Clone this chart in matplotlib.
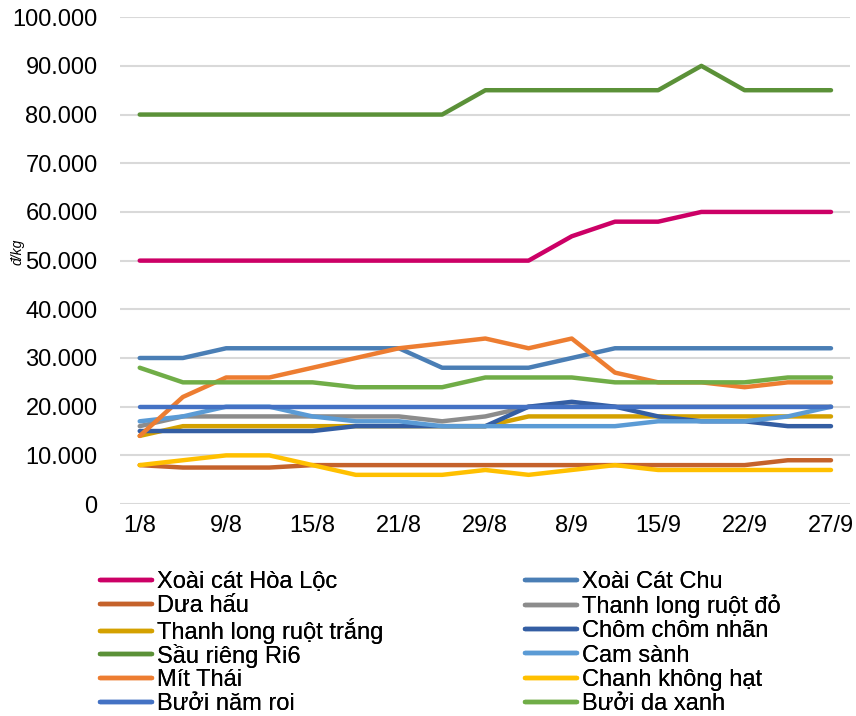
import matplotlib.pyplot as plt
import numpy as np

plt.rcParams['font.family'] = ['Liberation Sans', 'DejaVu Sans']

# dates (17 observations, every second one is labelled)
dates = ['1/8', '5/8', '9/8', '12/8', '15/8', '19/8', '21/8', '26/8', '29/8',
         '5/9', '8/9', '12/9', '15/9', '19/9', '22/9', '26/9', '27/9']
label_every = 2

xoai_hoa_loc = [50000, 50000, 50000, 50000, 50000, 50000, 50000, 50000, 50000,
                50000, 55000, 58000, 58000, 60000, 60000, 60000, 60000]
xoai_cat_chu = [30000, 30000, 32000, 32000, 32000, 32000, 32000, 28000, 28000,
                28000, 30000, 32000, 32000, 32000, 32000, 32000, 32000]
dua_hau = [8000, 7500, 7500, 7500, 8000, 8000, 8000, 8000, 8000,
           8000, 8000, 8000, 8000, 8000, 8000, 9000, 9000]
tl_ruot_do = [16000, 18000, 18000, 18000, 18000, 18000, 18000, 17000, 18000,
              20000, 20000, 20000, 20000, 20000, 20000, 20000, 20000]
tl_ruot_trang = [14000, 16000, 16000, 16000, 16000, 16000, 16000, 16000, 16000,
                 18000, 18000, 18000, 18000, 18000, 18000, 18000, 18000]
chom_chom = [15000, 15000, 15000, 15000, 15000, 16000, 16000, 16000, 16000,
             20000, 21000, 20000, 18000, 17000, 17000, 16000, 16000]
sau_rieng = [80000, 80000, 80000, 80000, 80000, 80000, 80000, 80000, 85000,
             85000, 85000, 85000, 85000, 90000, 85000, 85000, 85000]
cam_sanh = [17000, 18000, 20000, 20000, 18000, 17000, 17000, 16000, 16000,
            16000, 16000, 16000, 17000, 17000, 17000, 18000, 20000]
mit_thai = [14000, 22000, 26000, 26000, 28000, 30000, 32000, 33000, 34000,
            32000, 34000, 27000, 25000, 25000, 24000, 25000, 25000]
chanh = [8000, 9000, 10000, 10000, 8000, 6000, 6000, 6000, 7000,
         6000, 7000, 8000, 7000, 7000, 7000, 7000, 7000]
buoi_nam_roi = [20000] * 17
buoi_da_xanh = [28000, 25000, 25000, 25000, 25000, 24000, 24000, 24000, 26000,
                26000, 26000, 25000, 25000, 25000, 25000, 26000, 26000]

names = ['Xoài cát Hòa Lộc', 'Xoài Cát Chu', 'Dưa hấu', 'Thanh long ruột đỏ',
         'Thanh long ruột trắng', 'Chôm chôm nhãn', 'Sầu riêng Ri6', 'Cam sành',
         'Mít Thái', 'Chanh không hạt', 'Bưởi năm roi', 'Bưởi da xanh']
series = [xoai_hoa_loc, xoai_cat_chu, dua_hau, tl_ruot_do, tl_ruot_trang, chom_chom,
          sau_rieng, cam_sanh, mit_thai, chanh, buoi_nam_roi, buoi_da_xanh]
colors = ['#CC0066', '#4A7EB5', '#C5622B', '#8C8C8C', '#D4A100', '#345EA3',
          '#5B9138', '#5B9BD5', '#ED7D31', '#FFC000', '#4472C4', '#70AD47']

W, H = 856, 716
fig = plt.figure(figsize=(W / 100, H / 100), dpi=100)
ax = fig.add_axes([0.140, 0.296, 0.853, 0.680])

x = np.arange(len(dates))
handles = []
for vals, name, c in zip(series, names, colors):
    h, = ax.plot(x, vals, color=c, lw=3.2, label=name,
                 solid_capstyle='round', solid_joinstyle='round')
    handles.append(h)

ax.set_xlim(-0.46, 16.44)
ax.set_ylim(0, 100000)
yt = np.arange(0, 100001, 10000)
ax.set_yticks(yt)
ax.set_yticklabels(['0' if v == 0 else '{:.3f}'.format(v / 1000) for v in yt])
ax.set_xticks(x[::label_every])
ax.set_xticklabels(dates[::label_every])
ax.tick_params(axis='both', length=0, labelsize=17)
ax.tick_params(axis='y', pad=16)
ax.tick_params(axis='x', pad=8)
ax.grid(axis='y', color='#D9D9D9', lw=1.5)
ax.set_axisbelow(True)
for s in ax.spines.values():
    s.set_visible(False)

fig.text(18 / W, 1 - 252 / H, 'đ/kg', rotation=90, style='italic',
         fontsize=10, ha='center', va='center')

# legend: two columns, row by row, as in the original
leg_kw = dict(frameon=False, fontsize=17, handlelength=2.2, handletextpad=0.2,
              borderpad=0, borderaxespad=0, loc='center left')
row_y = [582, 606.5, 631, 655.5, 680, 704]
col_x = [100, 525]
for i, (h, name) in enumerate(zip(handles, names)):
    r, c = divmod(i, 2)
    fig.add_artist(fig.legend([h], [name], bbox_to_anchor=(col_x[c] / W, 1 - row_y[r] / H), **leg_kw))

fig.savefig('out.png', dpi=100)
